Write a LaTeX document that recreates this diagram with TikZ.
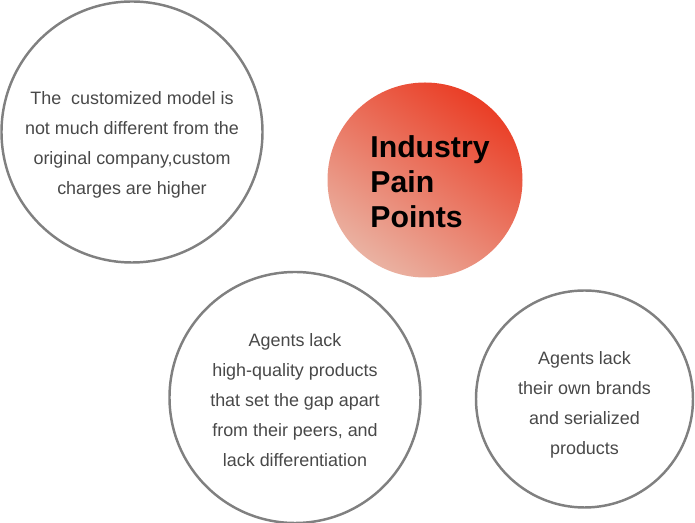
\documentclass[tikz,border=0pt]{standalone}
\usepackage{fontspec}
\setmainfont{Liberation Sans}
\usetikzlibrary{positioning}

\definecolor{ringgray}{RGB}{128,128,128}
\definecolor{txtgray}{RGB}{72,72,72}
\definecolor{painred}{RGB}{234,62,38}
\definecolor{painmid}{RGB}{231,92,70}
\definecolor{painpink}{RGB}{234,178,162}

\begin{document}
\begin{tikzpicture}[
    ring/.style={draw=ringgray,line width=1.4pt,circle,inner sep=0pt},
    ringtext/.style={align=center,text=txtgray,font=\fontsize{10.2}{17}\selectfont},
    painball/.style={circle,inner sep=0pt,
      top color=painred,middle color=painmid,bottom color=painpink,shading angle=-35},
    paintext/.style={align=left,text=black,font=\bfseries\fontsize{17.2}{19.9}\selectfont}
  ]
  \useasboundingbox (0,0) rectangle (13.9,-10.46);

  \node[ring,minimum size=5.22cm] (model) at (2.64,-2.64) {};
  \node[painball,minimum size=3.9cm] (pain) at (8.5,-3.6) {};
  \node[ring,minimum size=5.02cm] (quality) at (5.9,-7.95) {};
  \node[ring,minimum size=4.34cm] (brands) at (11.69,-7.98) {};

  \node[ringtext] (modeltxt) at ([yshift=-0.26cm]model.center)
    {The\ \ customized model is\\not much different from the\\original company,custom\\charges are higher};
  \node[paintext] (paintxt) at ([xshift=0.1cm,yshift=-0.04cm]pain.center)
    {Industry\\Pain\\Points};
  \node[ringtext] (qualitytxt) at ([yshift=-0.05cm]quality.center)
    {Agents lack\\high-quality products\\that set the gap apart\\from their peers, and\\lack differentiation};
  \node[ringtext] (brandstxt) at ([yshift=-0.12cm]brands.center)
    {Agents lack\\their own brands\\and serialized\\products};

\end{tikzpicture}
\end{document}
